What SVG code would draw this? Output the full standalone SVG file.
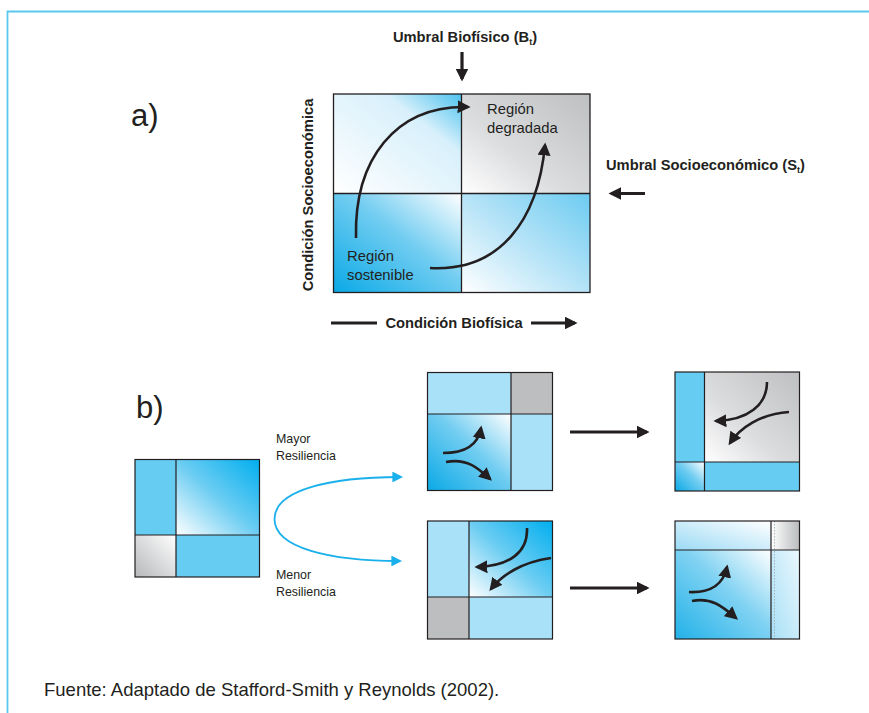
<svg xmlns="http://www.w3.org/2000/svg" width="869" height="713" viewBox="0 0 869 713">
<defs>
<style>
.t{font-family:"Liberation Sans",Arial,sans-serif;fill:#231f20}
.b{font-weight:bold;font-size:14.7px}
.n{font-size:14.8px}
.s{font-size:12.4px}
.ln{stroke:#231f20;stroke-width:1.3;fill:none}
.cell{stroke:#231f20;stroke-width:1.2}
.arr{stroke:#231f20;stroke-width:2.6;fill:none}
</style>
<linearGradient id="gBlueW" x1="0" y1="1" x2="1" y2="0"><stop offset="0" stop-color="#0aa9e6"/><stop offset="0.55" stop-color="#72cdf1"/><stop offset="1" stop-color="#ffffff"/></linearGradient>
<linearGradient id="gWBlue" x1="0" y1="1" x2="1" y2="0"><stop offset="0" stop-color="#ffffff"/><stop offset="0.5" stop-color="#b5e3f7"/><stop offset="1" stop-color="#6ccbf1"/></linearGradient>
<linearGradient id="gWPale" x1="0" y1="1" x2="1" y2="0"><stop offset="0" stop-color="#ffffff"/><stop offset="0.7" stop-color="#d8f0fb"/><stop offset="1" stop-color="#4cc2ee"/></linearGradient>
<linearGradient id="gWGray" x1="0" y1="1" x2="1" y2="0"><stop offset="0" stop-color="#ffffff"/><stop offset="0.4" stop-color="#dcdddf"/><stop offset="1" stop-color="#bdbfc1"/></linearGradient>
<linearGradient id="gWCyan" x1="0" y1="1" x2="1" y2="0"><stop offset="0" stop-color="#ffffff"/><stop offset="0.5" stop-color="#6ccdf2"/><stop offset="1" stop-color="#00aeef"/></linearGradient>
<linearGradient id="gGrayW" x1="0" y1="1" x2="1" y2="0"><stop offset="0" stop-color="#b6b8ba"/><stop offset="1" stop-color="#ffffff"/></linearGradient>
<linearGradient id="gPaleTop" x1="0" y1="1" x2="1" y2="0"><stop offset="0" stop-color="#9bdaf5"/><stop offset="1" stop-color="#ffffff"/></linearGradient>
<linearGradient id="gGrayR" x1="0" y1="0" x2="1" y2="0"><stop offset="0" stop-color="#ffffff"/><stop offset="1" stop-color="#b9bbbd"/></linearGradient>
<linearGradient id="gPaleR" x1="0" y1="1" x2="1" y2="0"><stop offset="0" stop-color="#a8e0f7"/><stop offset="1" stop-color="#eaf7fd"/></linearGradient>
<marker id="ah" viewBox="0 0 10 10" refX="8" refY="5" markerWidth="4" markerHeight="4" orient="auto" markerUnits="strokeWidth"><path d="M0,0 L10,5 L0,10 Z" fill="#231f20"/></marker>
<marker id="ahs" viewBox="0 0 10 10" refX="8" refY="5" markerWidth="5" markerHeight="5" orient="auto" markerUnits="strokeWidth"><path d="M0,0 L10,5 L0,10 Z" fill="#231f20"/></marker>
<marker id="ahb" viewBox="0 0 10 10" refX="8" refY="5" markerWidth="6" markerHeight="6" orient="auto" markerUnits="strokeWidth"><path d="M0,0 L10,5 L0,10 Z" fill="#1ab0ec"/></marker>
</defs>
<rect width="869" height="713" fill="#ffffff"/>
<g id="frame"><path d="M7.5,713 V11.5 H869" fill="none" stroke="#5bc8f0" stroke-width="1.8"/></g>

<g id="label-a"><text class="t" x="131" y="126" font-size="31">a)</text></g>
<g id="label-b"><text class="t" x="136" y="418" font-size="31">b)</text></g>

<g id="diagram-a">
<rect x="333.5" y="94" width="128" height="99.5" fill="url(#gWPale)"/>
<rect x="461.5" y="94" width="128.5" height="99.5" fill="url(#gWGray)"/>
<rect x="333.5" y="193.5" width="128" height="99" fill="url(#gBlueW)"/>
<rect x="461.5" y="193.5" width="128.5" height="99" fill="url(#gWBlue)"/>
<rect x="333.5" y="94" width="256.5" height="198.5" class="ln"/>
<path d="M461.5,94 V292.5 M333.5,193.5 H590" class="ln"/>
<text class="t n" x="487" y="114">Región</text>
<text class="t n" x="487" y="133">degradada</text>
<text class="t n" x="347" y="261">Región</text>
<text class="t n" x="347" y="280">sostenible</text>
</g>

<g id="labels-a">
<text class="t b" x="465" y="42" text-anchor="middle">Umbral Biofísico (B<tspan font-size="9" dy="2.5">t</tspan><tspan dy="-2.5">)</tspan></text>
<text class="t b" x="606" y="170">Umbral Socioeconómico (S<tspan font-size="9" dy="2.5">t</tspan><tspan dy="-2.5">)</tspan></text>
<text class="t b" transform="translate(313,195) rotate(-90)" text-anchor="middle">Condición Socioeconómica</text>
<text class="t b" x="454" y="328" text-anchor="middle">Condición Biofísica</text>
</g>

<g id="box-left">
<rect x="135" y="459.5" width="41" height="75.5" fill="#66ccf2"/>
<rect x="176" y="459.5" width="83.5" height="75.5" fill="url(#gWCyan)"/>
<rect x="135" y="535" width="41" height="42" fill="url(#gGrayW)"/>
<rect x="176" y="535" width="83.5" height="42" fill="#66ccf2"/>
<rect x="135" y="459.5" width="124.5" height="117.5" class="cell" fill="none"/>
<path d="M176,459.5 V577 M135,535 H259.5" class="cell" fill="none"/>
</g>

<g id="box-top-mid">
<rect x="427.5" y="372.5" width="83.5" height="41.5" fill="#a9e1f8"/>
<rect x="511" y="372.5" width="41.5" height="41.5" fill="#bcbec0"/>
<rect x="427.5" y="414" width="83.5" height="76.5" fill="url(#gBlueW)"/>
<rect x="511" y="414" width="41.5" height="76.5" fill="#a9e1f8"/>
<rect x="427.5" y="372.5" width="125" height="118" class="cell" fill="none"/>
<path d="M511,372.5 V490.5 M427.5,414 H552.5" class="cell" fill="none"/>
</g>

<g id="box-bottom-mid">
<rect x="427.5" y="521" width="41.5" height="76" fill="#a9e1f8"/>
<rect x="469" y="521" width="83.5" height="76" fill="url(#gWCyan)"/>
<rect x="427.5" y="597" width="41.5" height="42" fill="#bcbec0"/>
<rect x="469" y="597" width="83.5" height="42" fill="#a9e1f8"/>
<rect x="427.5" y="521" width="125" height="118" class="cell" fill="none"/>
<path d="M469,521 V639 M427.5,597 H552.5" class="cell" fill="none"/>
</g>

<g id="box-top-right">
<rect x="675" y="372" width="29.5" height="90" fill="#66ccf2"/>
<rect x="704.5" y="372" width="95" height="90" fill="url(#gWGray)"/>
<rect x="675" y="462" width="29.5" height="29" fill="url(#gBlueW)"/>
<rect x="704.5" y="462" width="95" height="29" fill="#66ccf2"/>
<rect x="675" y="372" width="124.5" height="119" class="cell" fill="none"/>
<path d="M704.5,372 V491 M675,462 H799.5" class="cell" fill="none"/>
</g>

<g id="box-bottom-right">
<rect x="675" y="521" width="96" height="29" fill="url(#gPaleTop)"/>
<rect x="771" y="521" width="28.5" height="29" fill="url(#gGrayR)"/>
<rect x="675" y="550" width="96" height="89" fill="url(#gBlueW)" opacity="0.9"/>
<rect x="771" y="550" width="28.5" height="89" fill="url(#gPaleR)"/>
<path d="M774.5,521 V639" stroke="#9aa7ad" stroke-width="0.8" stroke-dasharray="1.5,1.5"/>
<rect x="675" y="521" width="124.5" height="118" class="cell" fill="none"/>
<path d="M771,521 V639 M675,550 H799.5" class="cell" fill="none"/>
</g>

<g id="connectors">
<path d="M462,52 V79" stroke="#231f20" stroke-width="3.2" marker-end="url(#ah)"/>
<path d="M645,193.5 H611" stroke="#231f20" stroke-width="3.2" marker-end="url(#ah)"/>
<path d="M331,323 H377" stroke="#231f20" stroke-width="3.2"/>
<path d="M531,323 H575" stroke="#231f20" stroke-width="3.2" marker-end="url(#ah)"/>
<path d="M356,238 C354,160 395,105 468,107" class="arr" marker-end="url(#ahs)"/>
<path d="M430,268 C500,272 538,220 545,145" class="arr" marker-end="url(#ahs)"/>
<path d="M570,432 H647" stroke="#231f20" stroke-width="3.2" marker-end="url(#ah)"/>
<path d="M570,588 H647" stroke="#231f20" stroke-width="3.2" marker-end="url(#ah)"/>
<path d="M400,477 C330,477 274.5,490 274.5,519 C274.5,548 330,561 400,561" fill="none" stroke="#1ab0ec" stroke-width="1.8" marker-end="url(#ahb)"/>
<path d="M400,477 H401" fill="none" stroke="#1ab0ec" stroke-width="1.8" marker-end="url(#ahb)"/>
<path d="M443,453 C466,453 478,445 481,428" class="arr" stroke-width="2" marker-end="url(#ahs)"/>
<path d="M446,462 C467,458 478,468 490,479" class="arr" stroke-width="2" marker-end="url(#ahs)"/>
<path d="M527,528 C528,552 510,566 477,567" class="arr" stroke-width="2" marker-end="url(#ahs)"/>
<path d="M551,558 C522,562 502,575 491,589" class="arr" stroke-width="2" marker-end="url(#ahs)"/>
<path d="M767,382 C767,405 748,420 716,421" class="arr" stroke-width="2" marker-end="url(#ahs)"/>
<path d="M789,412 C760,414 740,428 730,443" class="arr" stroke-width="2" marker-end="url(#ahs)"/>
<path d="M689,592 C711,593 723,585 727,567" class="arr" stroke-width="2" marker-end="url(#ahs)"/>
<path d="M692,601 C711,597 722,606 736,618" class="arr" stroke-width="2" marker-end="url(#ahs)"/>
</g>

<g id="labels-b">
<text class="t s" x="276" y="443">Mayor</text>
<text class="t s" x="276" y="460">Resiliencia</text>
<text class="t s" x="276" y="579">Menor</text>
<text class="t s" x="276" y="596">Resiliencia</text>
</g>

<g id="footer"><text class="t" x="44" y="696" font-size="18.5">Fuente: Adaptado de Stafford-Smith y Reynolds (2002).</text></g>
</svg>
